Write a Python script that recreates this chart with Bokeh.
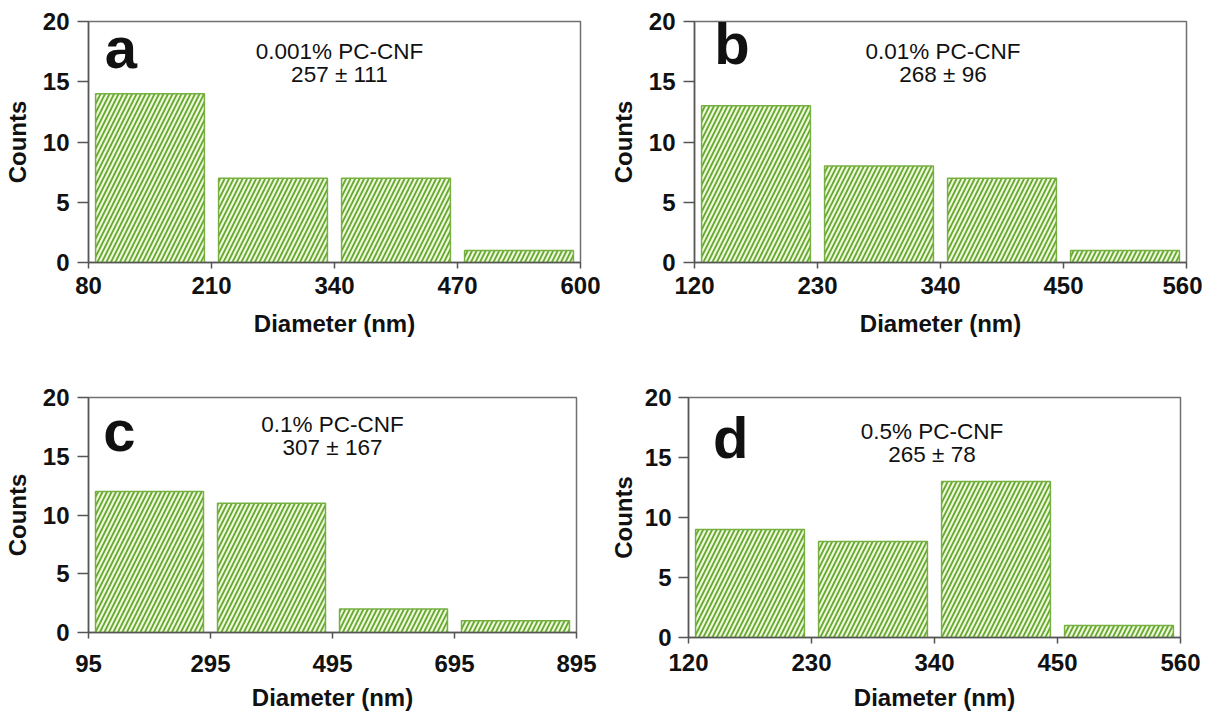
from bokeh.plotting import figure
from bokeh.layouts import column, row
from bokeh.models import FixedTicker, Label, ColumnDataSource
from bokeh.embed import file_html
from bokeh.resources import INLINE

# ---------------- data ----------------
edges_a = [80, 210, 340, 470, 600]
counts_a = [14, 7, 7, 1]
title_a = "0.001% PC-CNF"
stat_a = "257 \u00b1 111"

edges_b = [120, 230, 340, 450, 560]
counts_b = [13, 8, 7, 1]
title_b = "0.01% PC-CNF"
stat_b = "268 \u00b1 96"

edges_c = [95, 295, 495, 695, 895]
counts_c = [12, 11, 2, 1]
title_c = "0.1% PC-CNF"
stat_c = "307 \u00b1 167"

edges_d = [120, 230, 340, 450, 560]
counts_d = [9, 8, 13, 1]
title_d = "0.5% PC-CNF"
stat_d = "265 \u00b1 78"

y_ticks = [0, 5, 10, 15, 20]
x_label = "Diameter (nm)"
y_label = "Counts"

FONT = "Liberation Sans"
AXIS_COL = "#555555"
BAR_LINE = "#76b041"
HATCH_COL = "#66a830"
BAR_FILL = "#eef8dc"


def make_panel(edges, counts, letter, line1, line2, fw, fh, bl, br, bt, bb,
               letter_pos, text_pos, xl_standoff, xa_standoff,
               ytick_out, yl_standoff, ya_standoff):
    x0, x1 = edges[0], edges[-1]
    p = figure(frame_width=fw, frame_height=fh,
               min_border_left=bl, min_border_right=br,
               min_border_top=bt, min_border_bottom=bb,
               x_range=(x0, x1), y_range=(0, 20),
               output_backend="svg", toolbar_location=None,
               background_fill_color="white", border_fill_color="white")
    bw = edges[1] - edges[0]
    centers = [(edges[i] + edges[i + 1]) / 2 for i in range(len(counts))]
    src = ColumnDataSource(dict(x=centers, top=counts))
    p.vbar(x="x", top="top", bottom=0, width=bw * 0.885, source=src,
           fill_color=BAR_FILL, line_color=BAR_LINE, line_width=1.5,
           hatch_pattern="/", hatch_color=HATCH_COL, hatch_weight=1.8,
           hatch_scale=9)

    p.xgrid.visible = False
    p.ygrid.visible = False
    p.outline_line_color = "#707070"
    p.outline_line_width = 1.5

    for ax in (p.xaxis[0], p.yaxis[0]):
        ax.axis_line_color = AXIS_COL
        ax.axis_line_width = 1.5
        ax.major_tick_line_color = AXIS_COL
        ax.major_tick_line_width = 1.5
        ax.minor_tick_line_color = None
        ax.major_tick_in = 0
        ax.major_label_text_font = FONT
        ax.major_label_text_font_style = "bold"
        ax.major_label_text_font_size = "24px"
        ax.major_label_text_color = "#111111"
        ax.axis_label_text_font = FONT
        ax.axis_label_text_font_style = "bold"
        ax.axis_label_text_font_size = "24px"
        ax.axis_label_text_color = "#111111"

    p.xaxis.ticker = FixedTicker(ticks=edges)
    p.xaxis.major_tick_out = 6
    p.xaxis.major_label_standoff = xl_standoff
    p.xaxis.axis_label = x_label
    p.xaxis.axis_label_standoff = xa_standoff

    p.yaxis.ticker = FixedTicker(ticks=y_ticks)
    p.yaxis.major_tick_out = ytick_out
    p.yaxis.major_label_standoff = yl_standoff
    p.yaxis.axis_label = y_label
    p.yaxis.axis_label_standoff = ya_standoff

    lx = x0 + letter_pos[0] * (x1 - x0)
    p.add_layout(Label(x=lx, y=letter_pos[1], text=letter,
                       text_font=FONT, text_font_style="bold",
                       text_font_size="58px", text_color="#111111",
                       text_align="left", text_baseline="middle"))
    tx = x0 + text_pos[0] * (x1 - x0)
    p.add_layout(Label(x=tx, y=text_pos[1], text=line1,
                       text_font=FONT, text_font_size="22.5px",
                       text_color="#111111",
                       text_align="center", text_baseline="middle"))
    p.add_layout(Label(x=tx, y=text_pos[2], text=line2,
                       text_font=FONT, text_font_size="22.5px",
                       text_color="#111111",
                       text_align="center", text_baseline="middle"))
    return p


pa = make_panel(edges_a, counts_a, "a", title_a, stat_a,
                492, 241, 82, 26, 21, 77,
                (0.033, 17.84), (0.51, 17.5, 15.6), 8, 13, 11, 8, 9)
pb = make_panel(edges_b, counts_b, "b", title_b, stat_b,
                492, 241, 82, 16, 21, 77,
                (0.04, 18.17), (0.505, 17.5, 15.6), 8, 13, 11, 8, 9)
pc = make_panel(edges_c, counts_c, "c", title_c, stat_c,
                488, 235, 82, 30, 58, 79,
                (0.03, 17.23), (0.50, 17.7, 15.74), 16, 9, 11, 8, 9)
pd = make_panel(edges_d, counts_d, "d", title_d, stat_d,
                492, 240, 76, 22, 58, 74,
                (0.05, 16.67), (0.495, 17.17, 15.25), 10, 10, 10, 7, 5)

layout = column(row(pa, pb, spacing=0), row(pc, pd, spacing=0), spacing=0)

open("out.html", "w").write(file_html(layout, INLINE))
